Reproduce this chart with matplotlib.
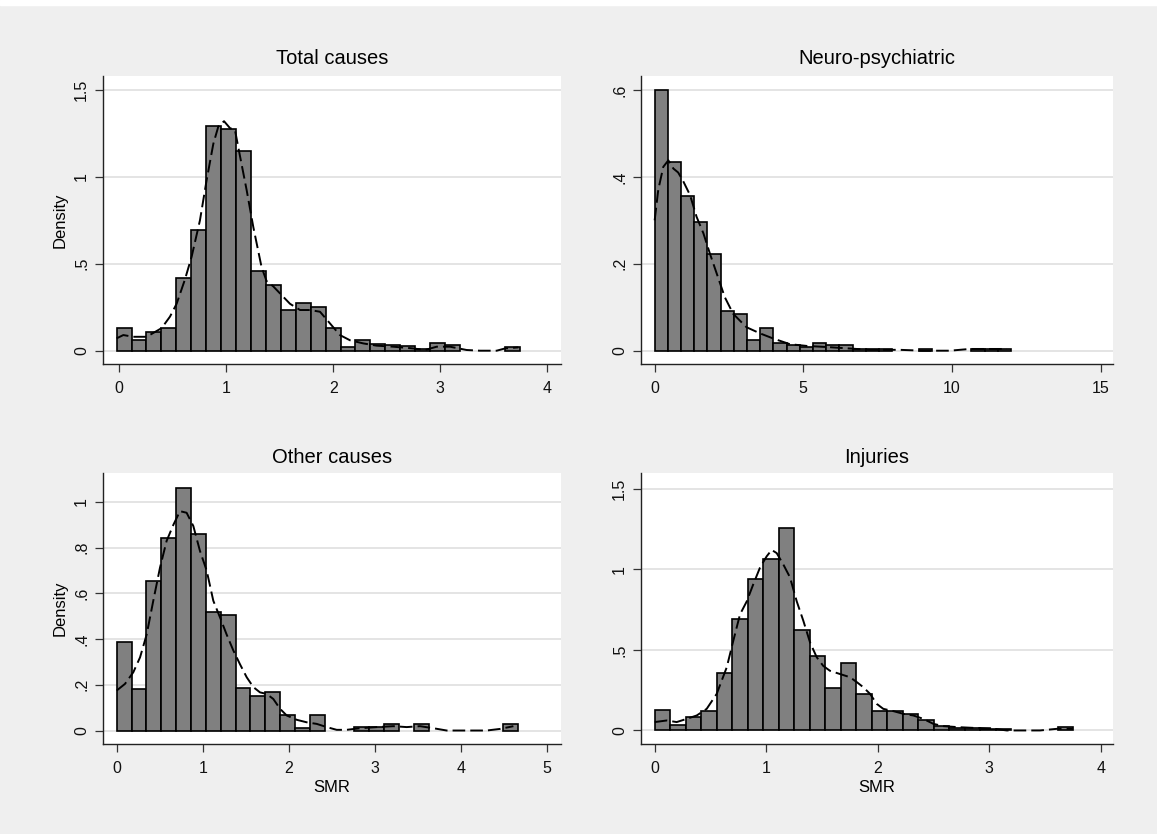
import numpy as np
import matplotlib
matplotlib.use('Agg')
import matplotlib.pyplot as plt
from matplotlib.patches import Rectangle

plt.rcParams['font.family'] = ['Liberation Sans', 'DejaVu Sans']

# ---- data ----
titles = ["Total causes", "Neuro-psychiatric", "Other causes", "Injuries"]

# histogram: first bin edge, bin width, bar heights (density)
total_start, total_width = -0.025, 0.1395
total_heights = [0.129, 0.061, 0.105, 0.129, 0.416, 0.692, 1.295, 1.276, 1.149,
                 0.460, 0.380, 0.234, 0.276, 0.251, 0.129, 0.020, 0.060, 0.040,
                 0.035, 0.025, 0.008, 0.042, 0.035, 0.0, 0.0, 0.0, 0.023]
neuro_start, neuro_width = 0.0, 0.444
neuro_heights = [0.600, 0.435, 0.355, 0.296, 0.223, 0.092, 0.085, 0.025, 0.052,
                 0.017, 0.012, 0.008, 0.018, 0.012, 0.013, 0.004, 0.004, 0.004,
                 0.0, 0.0, 0.004, 0.0, 0.0, 0.0, 0.004, 0.004, 0.004]
other_start, other_width = 0.0, 0.1725
other_heights = [0.386, 0.182, 0.655, 0.843, 1.060, 0.859, 0.520, 0.505, 0.185,
                 0.153, 0.167, 0.066, 0.010, 0.068, 0.0, 0.0, 0.015, 0.015,
                 0.029, 0.0, 0.029, 0.0, 0.0, 0.0, 0.0, 0.0, 0.029]
inj_start, inj_width = 0.0, 0.139
inj_heights = [0.124, 0.035, 0.082, 0.120, 0.355, 0.689, 0.942, 1.066, 1.258,
               0.625, 0.460, 0.266, 0.419, 0.225, 0.120, 0.120, 0.101, 0.062,
               0.025, 0.018, 0.015, 0.012, 0.008, 0.0, 0.0, 0.0, 0.020]

# kernel density curves
total_kx = [-0.025, 0.038, 0.131, 0.256, 0.396, 0.474, 0.536, 0.614, 0.676, 0.754,
            0.816, 0.879, 0.926, 0.979, 1.035, 1.081, 1.128, 1.190, 1.253, 1.330,
            1.377, 1.439, 1.517, 1.595, 1.689, 1.782, 1.876, 1.969, 2.062, 2.156,
            2.280, 2.405, 2.561, 2.748, 2.857, 2.966, 3.091, 3.246, 3.371, 3.527,
            3.605, 3.729]
total_ky = [0.071, 0.09, 0.08, 0.08, 0.13, 0.196, 0.27, 0.41, 0.54, 0.75,
            0.98, 1.19, 1.29, 1.32, 1.28, 1.27, 1.12, 0.925, 0.71, 0.48,
            0.40, 0.37, 0.32, 0.27, 0.234, 0.234, 0.224, 0.157, 0.09, 0.06,
            0.042, 0.029, 0.023, 0.013, 0.004, 0.023, 0.023, 0.004, 0.0, 0.0,
            0.013, 0.019]
neuro_kx = [0.0, 0.12, 0.29, 0.46, 0.63, 0.79, 0.96, 1.19, 1.41, 1.64, 1.86, 2.09,
            2.36, 2.64, 2.87, 3.09, 3.54, 3.99, 4.55, 5.11, 5.90, 6.57, 7.24,
            8.25, 9.02, 9.93, 10.6, 11.85]
neuro_ky = [0.30, 0.37, 0.423, 0.438, 0.419, 0.41, 0.39, 0.358, 0.308, 0.27, 0.223,
            0.177, 0.123, 0.085, 0.069, 0.054, 0.04, 0.028, 0.015, 0.011, 0.008,
            0.005, 0.002, 0.002, 0.0, 0.0, 0.004, 0.004]
other_kx = [0.0, 0.096, 0.193, 0.271, 0.348, 0.425, 0.503, 0.580, 0.658, 0.735,
            0.812, 0.890, 0.967, 1.045, 1.122, 1.200, 1.277, 1.355, 1.432, 1.510,
            1.587, 1.664, 1.742, 1.819, 1.897, 1.974, 2.090, 2.206, 2.323, 2.439,
            2.555, 2.671, 2.826, 3.020, 3.213, 3.368, 3.523, 3.678, 3.833, 4.065,
            4.297, 4.452, 4.607]
other_ky = [0.175, 0.204, 0.255, 0.32, 0.42, 0.568, 0.713, 0.83, 0.9, 0.96,
            0.953, 0.895, 0.786, 0.70, 0.568, 0.495, 0.42, 0.35, 0.29, 0.233,
            0.19, 0.167, 0.16, 0.138, 0.095, 0.066, 0.047, 0.036, 0.029, 0.015,
            0.003, 0.003, 0.01, 0.015, 0.019, 0.015, 0.019, 0.01, 0.0, 0.0,
            0.0, 0.007, 0.019]
inj_kx = [0.0, 0.108, 0.197, 0.287, 0.377, 0.466, 0.556, 0.646, 0.705, 0.765,
          0.825, 0.884, 0.944, 1.004, 1.049, 1.094, 1.153, 1.213, 1.274, 1.333,
          1.393, 1.453, 1.512, 1.572, 1.662, 1.752, 1.812, 1.871, 1.931, 1.991,
          2.050, 2.140, 2.230, 2.319, 2.409, 2.499, 2.588, 2.709, 2.857, 3.007,
          3.157, 3.306, 3.456, 3.605, 3.749]
inj_ky = [0.052, 0.062, 0.052, 0.072, 0.093, 0.134, 0.227, 0.392, 0.557, 0.72,
          0.80, 0.907, 1.01, 1.08, 1.12, 1.10, 1.03, 0.95, 0.80, 0.68,
          0.546, 0.454, 0.40, 0.37, 0.35, 0.33, 0.30, 0.268, 0.227, 0.165,
          0.134, 0.12, 0.103, 0.093, 0.072, 0.041, 0.027, 0.021, 0.016, 0.014,
          0.0, 0.0, 0.0, 0.01, 0.01]

# axis ticks
total_xticks, total_yticks = [0, 1, 2, 3, 4], [0, 0.5, 1, 1.5]
neuro_xticks, neuro_yticks = [0, 5, 10, 15], [0, 0.2, 0.4, 0.6]
other_xticks, other_yticks = [0, 1, 2, 3, 4, 5], [0, 0.2, 0.4, 0.6, 0.8, 1]
inj_xticks, inj_yticks = [0, 1, 2, 3, 4], [0, 0.5, 1, 1.5]


def stata_fmt(v):
    s = ("%g" % v)
    if s.startswith("0."):
        s = s[1:]
    return s


W, H = 1157, 834
BG = '#efefef'


def px_axes(fig, left, top, right, bottom):
    return fig.add_axes([left / W, 1 - bottom / H, (right - left) / W,
                         (bottom - top) / H])


def draw_panel(ax, start, width, heights, kx, ky, xticks, yticks, xlim, ylim):
    heights = np.asarray(heights)
    edges = start + width * np.arange(len(heights))
    keep = heights > 0
    for yt in yticks:
        ax.axhline(yt, color='#e4e4e4', lw=1.4, zorder=0)
    ax.bar(edges[keep], heights[keep], width, align='edge', color='#808080',
           edgecolor='black', linewidth=1.2, zorder=2)
    ax.plot(kx, ky, color='black', lw=1.4, dashes=(6.5, 2.6), zorder=3)
    ax.set_xlim(*xlim)
    ax.set_ylim(*ylim)
    ax.set_xticks(xticks)
    ax.set_xticklabels([stata_fmt(v) for v in xticks])
    ax.set_yticks(yticks)
    ax.set_yticklabels([stata_fmt(v) for v in yticks], rotation=90, va='center')
    ax.set_facecolor('white')
    for s in ('top', 'right'):
        ax.spines[s].set_visible(False)
    for s in ('left', 'bottom'):
        ax.spines[s].set_color('#222222')
        ax.spines[s].set_linewidth(1.0)
    ax.tick_params(direction='out', length=6, width=0.9, color='#333333',
                   labelsize=11.5, labelcolor='#111111')
    ax.tick_params(axis='x', pad=6)
    ax.tick_params(axis='y', pad=4)


fig = plt.figure(figsize=(W / 100, H / 100), dpi=100, facecolor=BG)
fig.patches.append(Rectangle((0, 1 - 5 / H), 1, 5 / H, transform=fig.transFigure,
                             color='white', zorder=0))

ax1 = px_axes(fig, 103, 76, 561, 364)
draw_panel(ax1, total_start, total_width, total_heights, total_kx, total_ky,
           total_xticks, total_yticks, (-0.152, 4.128), (-0.0765, 1.58))
ax2 = px_axes(fig, 641, 76, 1113, 364)
draw_panel(ax2, neuro_start, neuro_width, neuro_heights, neuro_kx, neuro_ky,
           neuro_xticks, neuro_yticks, (-0.46, 15.42), (-0.0306, 0.632))
ax3 = px_axes(fig, 103, 473, 561, 744)
draw_panel(ax3, other_start, other_width, other_heights, other_kx, other_ky,
           other_xticks, other_yticks, (-0.159, 5.16), (-0.059, 1.127))
ax4 = px_axes(fig, 641, 473, 1113, 744)
draw_panel(ax4, inj_start, inj_width, inj_heights, inj_kx, inj_ky,
           inj_xticks, inj_yticks, (-0.123, 4.11), (-0.084, 1.597))

# titles and axis titles
fig.text(332 / W, 1 - 58 / H, titles[0], ha='center', va='center', fontsize=14.5)
fig.text(877 / W, 1 - 58 / H, titles[1], ha='center', va='center', fontsize=14.5)
fig.text(332 / W, 1 - 457 / H, titles[2], ha='center', va='center', fontsize=14.5)
fig.text(877 / W, 1 - 457 / H, titles[3], ha='center', va='center', fontsize=14.5)
fig.text(60 / W, 1 - 220 / H, "Density", rotation=90, ha='center', va='center',
         fontsize=12)
fig.text(60 / W, 1 - 608 / H, "Density", rotation=90, ha='center', va='center',
         fontsize=12)
fig.text(332 / W, 1 - 787 / H, "SMR", ha='center', va='center', fontsize=12)
fig.text(877 / W, 1 - 787 / H, "SMR", ha='center', va='center', fontsize=12)

fig.savefig('out.png', dpi=100, facecolor=BG)
